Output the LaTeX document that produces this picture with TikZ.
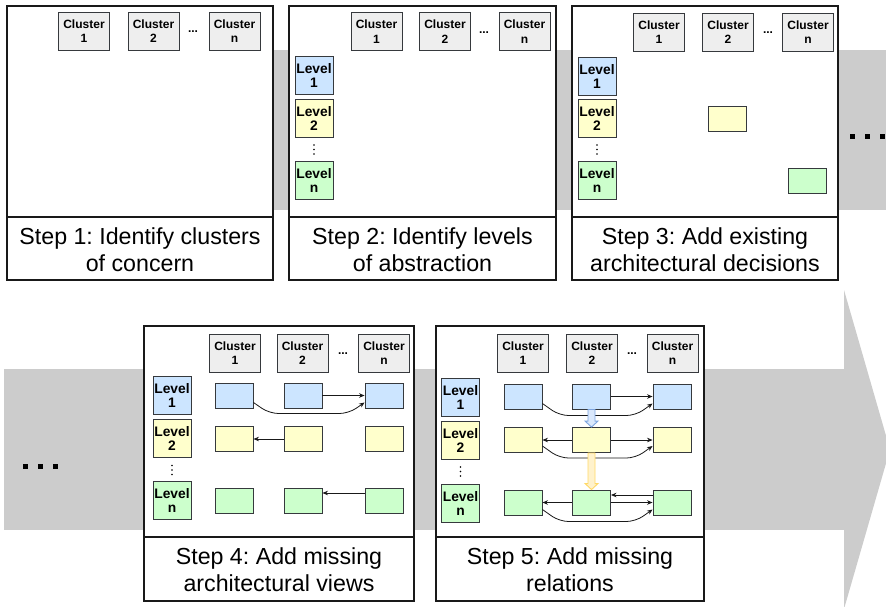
\documentclass[tikz,border=0pt]{standalone}
\usepackage{fontspec}
\setmainfont{Liberation Sans}
\usetikzlibrary{arrows.meta,calc}
\definecolor{band}{RGB}{204,204,204}
\definecolor{bd}{HTML}{36393D}
\definecolor{clf}{HTML}{EEEEEE}
\definecolor{blu}{HTML}{CCE5FF}
\definecolor{yel}{HTML}{FFFFCC}
\definecolor{grn}{HTML}{CCFFCC}
\definecolor{barrow}{HTML}{7EA6E0}
\definecolor{bafill}{HTML}{DAE8FC}
\definecolor{yarrow}{HTML}{FFD966}
\definecolor{yafill}{HTML}{FFF2CC}
\frenchspacing
\begin{document}
\begin{tikzpicture}[x=1pt,y=-1pt,
  panel/.style={draw=black!90, line width=1.3pt, fill=white},
  clus/.style={draw=bd, fill=clf, line width=0.9pt, minimum width=51pt, minimum height=38pt, inner sep=0pt, align=center, font=\bfseries\fontsize{12}{14.5}\selectfont},
  lvl/.style={draw=bd, line width=0.9pt, minimum width=38pt, minimum height=38pt, inner sep=0pt, align=center, font=\bfseries\fontsize{13.8}{14}\selectfont},
  cell/.style={draw=bd, line width=0.9pt, minimum width=38pt, minimum height=25pt, inner sep=0pt},
  rel/.style={draw=black!90, line width=0.8pt, -{Stealth[length=5.5pt,width=4.5pt]}},
  curv/.style={rel, rounded corners=9pt},
  captxt/.style={font=\fontsize{23.2}{27}\selectfont, align=center, inner sep=0pt},
  hdots/.style={font=\bfseries\fontsize{12}{12}\selectfont, inner sep=0pt},
  sq/.style={fill=black},
  vd/.style={fill=black}
]
\useasboundingbox (0,0) rectangle (886,606);
\clip (0,0) rectangle (886,606);

% background bands
\fill[band] (100,50) rectangle (886,210);
\fill[band] (4,369) rectangle (844,530);
\fill[band] (844,290) -- (890,449.5) -- (844,609) -- cycle;

% band dots
\foreach \x in {850,865,880} \fill[sq] (\x,134) rectangle ++(5,5);
\foreach \x in {23,38,53} \fill[sq] (\x,464) rectangle ++(5,5);

% panels
\draw[panel] (7,6) rectangle (273,280);  \draw[panel] (7,217) -- (273,217);
\draw[panel] (289,6) rectangle (556,280); \draw[panel] (289,217) -- (556,217);
\draw[panel] (572,6) rectangle (838,280); \draw[panel] (572,217) -- (838,217);
\draw[panel] (144,326) rectangle (414,601); \draw[panel] (144,537) -- (414,537);
\draw[panel] (436,326) rectangle (704,601); \draw[panel] (436,537) -- (704,537);

% captions
\node[captxt] (t1) at (140,250) {Step 1: Identify clusters\\of concern};
\node[captxt] (t2) at (422.5,250) {Step 2: Identify levels\\of abstraction};
\node[captxt] (t3) at (705,250) {Step 3: Add existing\\architectural decisions};
\node[captxt] (t4) at (279,570) {Step 4: Add missing\\architectural views};
\node[captxt] (t5) at (570,570) {Step 5: Add missing\\relations};

% ---------- panel 1
\node[clus] (p1k1) at (84,31) {Cluster\\1};
\node[clus] (p1k2) at (153.5,31) {Cluster\\2};
\node[hdots] (p1d) at (193,32) {...};
\node[clus] (p1kn) at (234.5,31) {Cluster\\n};

% ---------- panel 2
\node[clus] (p2k1) at (376.5,31.5) {Cluster\\1};
\node[clus] (p2k2) at (445,31.5) {Cluster\\2};
\node[hdots] (p2d) at (484,32.5) {...};
\node[clus] (p2kn) at (524.5,31.5) {Cluster\\n};
\node[lvl, fill=blu] (p2l1) at (314,75) {Level\\1};
\node[lvl, fill=yel] (p2l2) at (314,118) {Level\\2};
\node[lvl, fill=grn] (p2ln) at (314,180.5) {Level\\n};
\foreach \y in {145,149.5,154} \fill[vd] (314,\y) circle (0.9);

% ---------- panel 3
\node[clus] (p3k1) at (659,32) {Cluster\\1};
\node[clus] (p3k2) at (728,32) {Cluster\\2};
\node[hdots] (p3d) at (768,33) {...};
\node[clus] (p3kn) at (808,32) {Cluster\\n};
\node[lvl, fill=blu] (p3l1) at (597,76) {Level\\1};
\node[lvl, fill=yel] (p3l2) at (597,118.5) {Level\\2};
\node[lvl, fill=grn] (p3ln) at (597,180.5) {Level\\n};
\foreach \y in {145,149.5,154} \fill[vd] (597,\y) circle (0.9);
\node[cell, fill=yel] (p3b2) at (727,118.5) {};
\node[cell, fill=grn] (p3c3) at (807,180.5) {};

% ---------- panel 4
\node[clus] (p4k1) at (235,353) {Cluster\\1};
\node[clus] (p4k2) at (302.5,353) {Cluster\\2};
\node[hdots] (p4d) at (343,354) {...};
\node[clus] (p4kn) at (384,353) {Cluster\\n};
\node[lvl, fill=blu] (p4l1) at (172,395.5) {Level\\1};
\node[lvl, fill=yel] (p4l2) at (172,438.5) {Level\\2};
\node[lvl, fill=grn] (p4ln) at (172,500.5) {Level\\n};
\foreach \y in {465.5,470,474.5} \fill[vd] (172,\y) circle (0.9);
\node[cell, fill=blu] (p4a1) at (234,395.5) {};
\node[cell, fill=blu] (p4a2) at (303,395.5) {};
\node[cell, fill=blu] (p4a3) at (384,395.5) {};
\node[cell, fill=yel] (p4b1) at (234,439) {};
\node[cell, fill=yel] (p4b2) at (303,439) {};
\node[cell, fill=yel] (p4b3) at (384,439) {};
\node[cell, fill=grn] (p4c1) at (234,500.5) {};
\node[cell, fill=grn] (p4c2) at (303,500.5) {};
\node[cell, fill=grn] (p4c3) at (384,500.5) {};
\draw[rel] (p4a2.east) -- (p4a3.west);
\draw[curv] ($(p4a1.east)+(0,7)$) -- ++(16,11) -- ($(p4a3.west)+(-16,18)$) -- ($(p4a3.west)+(0,7)$);
\draw[rel] (p4b2.west) -- (p4b1.east);
\draw[rel] ($(p4c3.west)+(0,-7.5)$) -- ($(p4c2.east)+(0,-7.5)$);

% ---------- panel 5
\node[clus] (p5k1) at (523,353) {Cluster\\1};
\node[clus] (p5k2) at (592,353) {Cluster\\2};
\node[hdots] (p5d) at (632,354) {...};
\node[clus] (p5kn) at (672.5,353) {Cluster\\n};
\node[lvl, fill=blu] (p5l1) at (460.5,397) {Level\\1};
\node[lvl, fill=yel] (p5l2) at (460.5,440) {Level\\2};
\node[lvl, fill=grn] (p5ln) at (460.5,503) {Level\\n};
\foreach \y in {467,471.5,476} \fill[vd] (460.5,\y) circle (0.9);
\node[cell, fill=blu] (p5a1) at (523,396.5) {};
\node[cell, fill=blu] (p5a2) at (591.5,396.5) {};
\node[cell, fill=blu] (p5a3) at (672,396.5) {};
\node[cell, fill=yel] (p5b1) at (523,440) {};
\node[cell, fill=yel] (p5b2) at (591.5,440) {};
\node[cell, fill=yel] (p5b3) at (672,440) {};
\node[cell, fill=grn] (p5c1) at (523,502.5) {};
\node[cell, fill=grn] (p5c2) at (591.5,502.5) {};
\node[cell, fill=grn] (p5c3) at (672,502.5) {};
\draw[rel] (p5a2.east) -- (p5a3.west);
\draw[curv] ($(p5a1.east)+(0,7)$) -- ++(17,12) -- ($(p5a3.west)+(-17,19)$) -- ($(p5a3.west)+(0,7)$);
\draw[rel] (p5b2.west) -- (p5b1.east);
\draw[rel] (p5b2.east) -- (p5b3.west);
\draw[curv] ($(p5b1.east)+(0,6)$) -- ++(17,12) -- ($(p5b3.west)+(-17,18)$) -- ($(p5b3.west)+(0,6)$);
\draw[rel] (p5c2.west) -- (p5c1.east);
\draw[rel] ($(p5c3.west)+(0,-7.5)$) -- ($(p5c2.east)+(0,-7.5)$);
\draw[rel] (p5c2.east) -- (p5c3.west);
\draw[curv] ($(p5c1.east)+(0,7)$) -- ++(17,12) -- ($(p5c3.west)+(-17,19)$) -- ($(p5c3.west)+(0,7)$);

% block arrows between levels
\draw[draw=barrow, fill=bafill, line width=0.9pt, line join=miter]
  ($(p5a2.south)+(-3.5,0)$) -- ($(p5b2.north)+(-3.5,-6)$) -- ($(p5b2.north)+(-6.5,-6)$)
  -- (p5b2.north) -- ($(p5b2.north)+(6.5,-6)$) -- ($(p5b2.north)+(3.5,-6)$)
  -- ($(p5a2.south)+(3.5,0)$) -- cycle;
\draw[draw=yarrow, fill=yafill, line width=0.9pt, line join=miter]
  ($(p5b2.south)+(-3.5,0)$) -- ($(p5c2.north)+(-3.5,-6)$) -- ($(p5c2.north)+(-6.5,-6)$)
  -- (p5c2.north) -- ($(p5c2.north)+(6.5,-6)$) -- ($(p5c2.north)+(3.5,-6)$)
  -- ($(p5b2.south)+(3.5,0)$) -- cycle;
\end{tikzpicture}
\end{document}
